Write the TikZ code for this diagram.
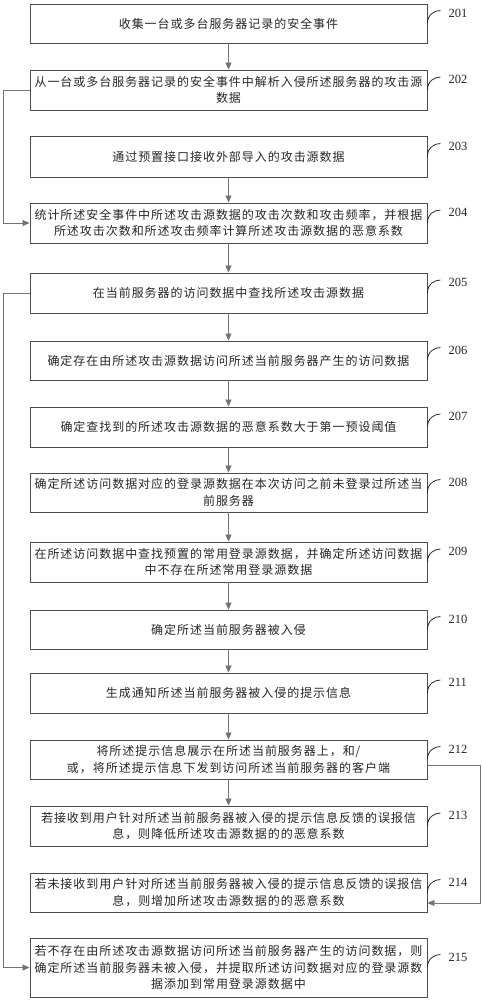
\documentclass[tikz,border=0pt]{standalone}
\usepackage{fontspec}
\setmainfont{Liberation Serif}
\newfontfamily\cjk{Noto Sans CJK SC}[LetterSpace=8]
\usetikzlibrary{arrows.meta}
\begin{document}
\begin{tikzpicture}[x=1pt,y=-1pt,
  stepbox/.style={draw=black!70, line width=0.9pt, minimum width=397pt, inner sep=0pt,
    align=center, font=\cjk\fontsize{12}{16.5}\selectfont, text=black!85},
  conn/.style={draw=black!55, line width=0.8pt, -{Triangle[length=7pt,width=6pt]}},
  lab/.style={font=\fontsize{12.5}{14}\selectfont, inner sep=0pt, anchor=west, text=black!85},
  hook/.style={draw=black!85, line width=0.8pt}]
\useasboundingbox (0,0) rectangle (483,1000);
\newcommand\stepnode[4]{%
  \node[stepbox, minimum height=#3-#2] (b#1) at (228.5,{(#2+#3)/2}) {#4};
  \draw[hook] (b#1.east) .. controls +(0,-9) and +(-6,0) .. +(13,-13);
  \node[lab] (l#1) at ([xshift=21pt,yshift=10.5pt]b#1.east) {#1};}
\stepnode{201}{4}{43}{收集一台或多台服务器记录的安全事件}
\stepnode{202}{70}{110}{从一台或多台服务器记录的安全事件中解析入侵所述服务器的攻击源\\数据}
\stepnode{203}{136}{177}{通过预置接口接收外部导入的攻击源数据}
\stepnode{204}{203}{243}{统计所述安全事件中所述攻击源数据的攻击次数和攻击频率，并根据\\所述攻击次数和所述攻击频率计算所述攻击源数据的恶意系数}
\stepnode{205}{273}{313}{在当前服务器的访问数据中查找所述攻击源数据}
\stepnode{206}{341}{380}{确定存在由所述攻击源数据访问所述当前服务器产生的访问数据}
\stepnode{207}{407}{447}{确定查找到的所述攻击源数据的恶意系数大于第一预设阈值}
\stepnode{208}{473}{512}{确定所述访问数据对应的登录源数据在本次访问之前未登录过所述当\\前服务器}
\stepnode{209}{542}{582}{在所述访问数据中查找预置的常用登录源数据，并确定所述访问数据\\中不存在所述常用登录源数据}
\stepnode{210}{610}{649}{确定所述当前服务器被入侵}
\stepnode{211}{673}{713}{生成通知所述当前服务器被入侵的提示信息}
\stepnode{212}{740}{779}{将所述提示信息展示在所述当前服务器上，和/\\或，将所述提示信息下发到访问所述当前服务器的客户端}
\stepnode{213}{806}{846}{若接收到用户针对所述当前服务器被入侵的提示信息反馈的误报信\\息，则降低所述攻击源数据的的恶意系数}
\stepnode{214}{873}{912}{若未接收到用户针对所述当前服务器被入侵的提示信息反馈的误报信\\息，则增加所述攻击源数据的的恶意系数}
\stepnode{215}{938}{997}{若不存在由所述攻击源数据访问所述当前服务器产生的访问数据，则\\确定所述当前服务器未被入侵，并提取所述访问数据对应的登录源数\\据添加到常用登录源数据中}
\draw[conn] (b201) -- (b202);
\draw[conn] (b203) -- (b204);
\draw[conn] (b204) -- (b205);
\draw[conn] (b205) -- (b206);
\draw[conn] (b206) -- (b207);
\draw[conn] (b207) -- (b208);
\draw[conn] (b208) -- (b209);
\draw[conn] (b209) -- (b210);
\draw[conn] (b210) -- (b211);
\draw[conn] (b211) -- (b212);
\draw[conn] (b212) -- (b213);
\draw[conn] (b202.west) -- ++(-26,0) |- (b204.west);
\draw[conn] (b205.west) -- ++(-26,0) |- (b215.west);
\draw[conn] ([yshift=-5.5pt]b212.east) -- ++(53,0) |- ([yshift=-10.5pt]b214.east);
\end{tikzpicture}
\end{document}
